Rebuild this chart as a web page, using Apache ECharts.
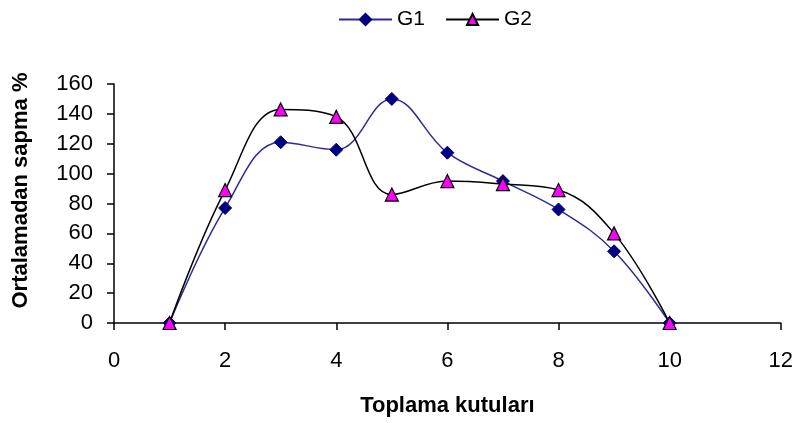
<!DOCTYPE html>
<html>
<head>
<meta charset="utf-8">
<script src="https://cdn.jsdelivr.net/npm/echarts@6/dist/echarts.min.js"></script>
<style>
  html, body { margin: 0; padding: 0; background: #fff; }
  #chart { width: 796px; height: 423px; }
</style>
</head>
<body>
<div id="chart"></div>
<script>
// Collection boxes (x) and deviation from the mean in percent (y)
const boxes = [1, 2, 3, 4, 5, 6, 7, 8, 9, 10];
const g1 = [0, 77, 121, 116, 150, 114, 95, 76, 48, 0];
const g2 = [0, 89, 143, 138, 86, 95, 93, 89, 60, 0];
const xTicks = { min: 0, max: 12, step: 2 };
const yTicks = { min: 0, max: 160, step: 20 };

const pairs = (vals) => boxes.map((b, i) => [b, vals[i]]);
const font = 'Liberation Sans, Arial, sans-serif';

const chart = echarts.init(document.getElementById('chart'), null, { renderer: 'canvas' });
chart.setOption({
  animation: false,
  backgroundColor: '#ffffff',
  textStyle: { fontFamily: font, color: '#000' },
  legend: {
    top: 4,
    left: 333,
    itemWidth: 53,
    itemHeight: 14,
    itemGap: 20,
    textStyle: { fontSize: 21, color: '#000', fontFamily: font },
    data: ['G1', 'G2']
  },
  grid: { left: 114, right: 15, top: 84, bottom: 100, containLabel: false },
  xAxis: {
    type: 'value',
    min: xTicks.min, max: xTicks.max, interval: xTicks.step,
    name: 'Toplama kutuları',
    nameLocation: 'middle',
    nameGap: 72,
    nameTextStyle: { fontSize: 22, fontWeight: 'bold', color: '#000', fontFamily: font },
    axisLine: { lineStyle: { color: '#000', width: 1.5 } },
    axisTick: { length: 7, lineStyle: { color: '#000', width: 1.5 } },
    axisLabel: { fontSize: 22, color: '#000', margin: 27, fontFamily: font },
    splitLine: { show: false }
  },
  yAxis: {
    type: 'value',
    min: yTicks.min, max: yTicks.max, interval: yTicks.step,
    name: 'Ortalamadan sapma %',
    nameLocation: 'middle',
    nameRotate: 90,
    nameGap: 82,
    nameTextStyle: {
      fontSize: 22, fontWeight: 'bold', color: '#000', fontFamily: font,
      padding: [0, 0, 0, 26]
    },
    axisLine: { show: true, lineStyle: { color: '#000', width: 1.5 } },
    axisTick: { show: true, length: 7, lineStyle: { color: '#000', width: 1.5 } },
    axisLabel: { fontSize: 22, color: '#000', margin: 21, fontFamily: font },
    splitLine: { show: false }
  },
  series: [
    {
      name: 'G1',
      type: 'line',
      data: pairs(g1),
      smooth: 0.4,
      symbol: 'diamond',
      symbolSize: 13,
      lineStyle: { color: '#2c2c96', width: 1.5 },
      itemStyle: { color: '#000080', borderColor: '#000080', borderWidth: 1 },
      z: 3
    },
    {
      name: 'G2',
      type: 'line',
      data: pairs(g2),
      smooth: 0.4,
      symbol: 'triangle',
      symbolSize: 13,
      lineStyle: { color: '#000', width: 1.5 },
      itemStyle: { color: '#ff00ff', borderColor: '#000', borderWidth: 1.2 },
      z: 4
    }
  ]
});
</script>
</body>
</html>
